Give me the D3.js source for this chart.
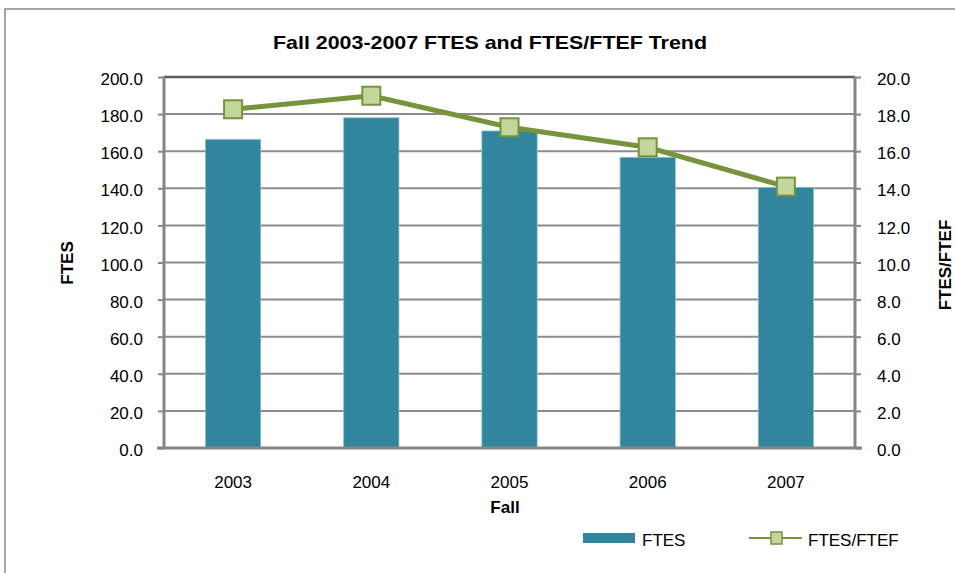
<!DOCTYPE html>
<html>
<head>
<meta charset="utf-8">
<script src="https://cdn.jsdelivr.net/npm/d3@7"></script>
<style>
  body { margin: 0; background: #fff; }
  svg text { font-family: "Liberation Sans", Arial, sans-serif; fill: #000; }
</style>
</head>
<body>
<div class="chart"></div>
<script>
// data
let years = ["2003", "2004", "2005", "2006", "2007"];
let ftes = [166.4, 178.0, 170.9, 156.7, 140.5];
let ratio = [18.26, 18.99, 17.29, 16.21, 14.09];
let leftTicks = [0, 20, 40, 60, 80, 100, 120, 140, 160, 180, 200];
let rightTicks = [0, 2, 4, 6, 8, 10, 12, 14, 16, 18, 20];

let chart = {};

chart.margin = { top: 77, right: 100, bottom: 125, left: 164 };
chart.width = 955 - chart.margin.left - chart.margin.right;
chart.height = 573 - chart.margin.top - chart.margin.bottom;

chart.svg = d3.select(".chart").append("svg")
    .attr("width", 955)
    .attr("height", 573);

// outer frame
chart.svg.append("rect")
    .attr("x", 5).attr("y", 9)
    .attr("width", 1000).attr("height", 600)
    .attr("fill", "none")
    .attr("stroke", "#8a8a8a")
    .attr("stroke-width", 1.5);

chart.plot = chart.svg.append("g")
    .attr("transform", `translate(${chart.margin.left},${chart.margin.top})`);

chart.x = d3.scaleBand().domain(years).range([0, chart.width]).paddingInner(0.6).paddingOuter(0.3);
chart.y = d3.scaleLinear().domain([0, 200]).range([chart.height, 0]);
chart.y2 = d3.scaleLinear().domain([0, 20]).range([chart.height, 0]);

// gridlines
chart.plot.selectAll("line.grid")
    .data(leftTicks.slice(1)).enter()
    .append("line")
    .attr("class", "grid")
    .attr("x1", 0).attr("x2", chart.width)
    .attr("y1", d => chart.y(d)).attr("y2", d => chart.y(d))
    .attr("stroke", d => d === 200 ? "#5a5a5a" : "#8c8c8c")
    .attr("stroke-width", d => d === 200 ? 2.5 : 2);

// bars
chart.plot.selectAll("rect.bar")
    .data(ftes).enter()
    .append("rect")
    .attr("class", "bar")
    .attr("x", (d, i) => chart.x(years[i]))
    .attr("width", chart.x.bandwidth())
    .attr("y", d => chart.y(d))
    .attr("height", d => chart.height - chart.y(d))
    .attr("fill", "#31869e")
    .attr("stroke", "#8cc0cf")
    .attr("stroke-width", 0.8);

// axes
let leftAxis = d3.axisLeft(chart.y).tickValues(leftTicks).tickSize(6).tickPadding(15).tickFormat(d3.format(".1f"));
let rightAxis = d3.axisRight(chart.y2).tickValues(rightTicks).tickSize(6).tickPadding(16).tickFormat(d3.format(".1f"));
let bottomAxis = d3.axisBottom(chart.x).tickSize(0).tickPadding(28);

function styleAxis(g) {
    g.select(".domain").attr("stroke", "#868686").attr("stroke-width", 3);
    g.selectAll(".tick line").attr("stroke", "#868686").attr("stroke-width", 2);
    g.selectAll(".tick text").style("font-size", "17px").attr("fill", "#000");
}

chart.plot.append("g").call(leftAxis).call(styleAxis)
    .call(g => g.select(".domain").attr("d", `M0,${chart.height}V0`))
    .call(g => g.selectAll(".tick text").attr("dy", "0.45em"));
chart.plot.append("g").attr("transform", `translate(${chart.width},0)`).call(rightAxis).call(styleAxis)
    .call(g => g.select(".domain").attr("d", `M0,${chart.height}V0`))
    .call(g => g.selectAll(".tick text").attr("dy", "0.45em"));
chart.plot.append("g").attr("transform", `translate(0,${chart.height})`).call(bottomAxis).call(styleAxis)
    .call(g => g.select(".domain").attr("d", `M-7,0H${chart.width + 7}`));

// line series
let cx = (d, i) => chart.x(years[i]) + chart.x.bandwidth() / 2;
chart.line = d3.line().x(cx).y(d => chart.y2(d));

chart.plot.append("path")
    .datum(ratio)
    .attr("d", chart.line)
    .attr("fill", "none")
    .attr("stroke", "#77933c")
    .attr("stroke-width", 5);

chart.plot.selectAll("rect.marker")
    .data(ratio).enter()
    .append("rect")
    .attr("class", "marker")
    .attr("x", (d, i) => cx(d, i) - 9)
    .attr("y", d => chart.y2(d) - 9)
    .attr("width", 18).attr("height", 18)
    .attr("fill", "#c3d69b")
    .attr("stroke", "#77933c")
    .attr("stroke-width", 2);

// titles
chart.svg.append("text")
    .attr("x", 490).attr("y", 49)
    .attr("text-anchor", "middle")
    .style("font-size", "19px").style("font-weight", "bold")
    .attr("textLength", 434).attr("lengthAdjust", "spacingAndGlyphs")
    .text("Fall 2003-2007 FTES and FTES/FTEF Trend");

chart.svg.append("text")
    .attr("x", 505).attr("y", 513)
    .attr("text-anchor", "middle")
    .style("font-size", "17px").style("font-weight", "bold")
    .text("Fall");

chart.svg.append("text")
    .attr("transform", "translate(73,263) rotate(-90)")
    .attr("text-anchor", "middle")
    .style("font-size", "17px").style("font-weight", "bold")
    .text("FTES");

chart.svg.append("text")
    .attr("transform", "translate(951,265) rotate(-90)")
    .attr("text-anchor", "middle")
    .style("font-size", "17px").style("font-weight", "bold")
    .text("FTES/FTEF");

// legend
let legend = chart.svg.append("g");
legend.append("rect")
    .attr("x", 583).attr("y", 533).attr("width", 52).attr("height", 10)
    .attr("fill", "#31869e");
legend.append("text")
    .attr("x", 642).attr("y", 546)
    .style("font-size", "17px")
    .text("FTES");

legend.append("line")
    .attr("x1", 749).attr("x2", 802).attr("y1", 538).attr("y2", 538)
    .attr("stroke", "#77933c").attr("stroke-width", 2);
legend.append("rect")
    .attr("x", 771).attr("y", 532).attr("width", 11).attr("height", 12)
    .attr("fill", "#c3d69b").attr("stroke", "#77933c").attr("stroke-width", 1.5);
legend.append("text")
    .attr("x", 808).attr("y", 546)
    .style("font-size", "17px")
    .text("FTES/FTEF");
</script>
</body>
</html>
